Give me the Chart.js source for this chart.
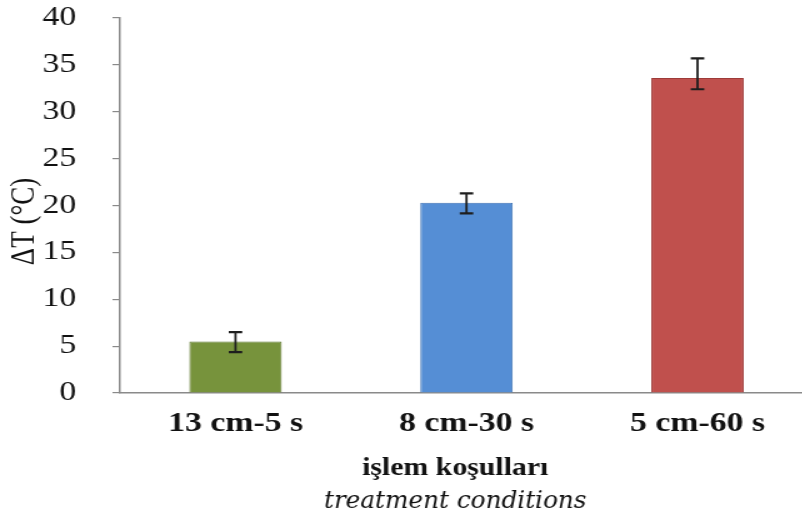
<!DOCTYPE html>
<html>
<head>
<meta charset="utf-8">
<script src="https://cdn.jsdelivr.net/npm/chart.js@4/dist/chart.umd.min.js"></script>
<style>
  html, body { margin: 0; padding: 0; background: #fff; overflow: hidden; }
  #chart { display: block; }
</style>
</head>
<body>
<!-- drawing surface is widened horizontally by CSS (1.25x) -->
<canvas id="chart" width="652" height="521" style="width:815px;height:521px"></canvas>
<script>
// Treatment conditions and measured temperature rise
const categories = ['13 cm-5 s', '8 cm-30 s', '5 cm-60 s'];
const deltaT     = [5.5, 20.3, 33.6];
const errUp      = [1.0, 1.0, 2.1];
const errDown    = [1.15, 1.15, 1.2];
const yMin = 0, yMax = 40, yStep = 5;
const yTitle = 'ΔT (°C)';
const xTitleTr = 'işlem koşulları';
const xTitleEn = 'treatment conditions';

const fills   = ['#77933C', '#558ED5', '#C0504D'];
const borders = ['#5E7730', '#3F72B4', '#9E3B38'];
const axisGrey = '#8a8a8a';
const textCol = '#111';
const serif = '"Liberation Serif", "Times New Roman", serif';

// error whiskers with caps, placed through the y scale
const errorBars = {
  id: 'errorBars',
  afterDatasetsDraw(chart) {
    const ctx = chart.ctx;
    const y = chart.scales.y;
    const meta = chart.getDatasetMeta(0);
    ctx.save();
    ctx.strokeStyle = '#1e1e1e';
    meta.data.forEach((bar, i) => {
      const v = deltaT[i];
      const top = y.getPixelForValue(v + errUp[i]);
      const bot = y.getPixelForValue(v - errDown[i]);
      const cap = 5.4;
      ctx.lineWidth = 1.8;
      ctx.beginPath();
      ctx.moveTo(bar.x, top);
      ctx.lineTo(bar.x, bot);
      ctx.stroke();
      ctx.lineWidth = 2.2;
      ctx.beginPath();
      ctx.moveTo(bar.x - cap, top);
      ctx.lineTo(bar.x + cap, top);
      ctx.moveTo(bar.x - cap, bot);
      ctx.lineTo(bar.x + cap, bot);
      ctx.stroke();
    });
    ctx.restore();
  }
};

// text drawn centred and squeezed to a given width
function fitText(ctx, text, font, cx, cy, width) {
  ctx.font = font;
  const w = ctx.measureText(text).width;
  const sx = Math.min(1, width / w);
  ctx.save();
  ctx.translate(cx, cy);
  ctx.scale(sx, 1);
  ctx.fillText(text, 0, 0);
  ctx.restore();
}

// axis titles: rotated y title, two-line x title (Turkish bold, English italic)
const axisTitles = {
  id: 'axisTitles',
  afterDraw(chart) {
    const ctx = chart.ctx;
    const ca = chart.chartArea;
    const cx = (ca.left + ca.right) / 2 - 9;
    ctx.save();
    ctx.fillStyle = textCol;
    ctx.textAlign = 'center';
    ctx.textBaseline = 'middle';
    fitText(ctx, xTitleTr, 'bold 26px ' + serif, cx, ca.bottom + 75, 149);
    fitText(ctx, xTitleEn, 'italic 24px "DejaVu Serif", serif', cx, ca.bottom + 109, 210);

    ctx.save();
    ctx.translate(20, (ca.top + ca.bottom) / 2 + 16);
    ctx.rotate(-Math.PI / 2);
    ctx.font = '27px ' + serif;
    ctx.fillText(yTitle, 0, 0);
    ctx.restore();
    ctx.restore();
  }
};

new Chart(document.getElementById('chart'), {
  type: 'bar',
  data: {
    labels: categories,
    datasets: [{
      data: deltaT,
      backgroundColor: fills,
      borderColor: borders,
      borderWidth: 1,
      barPercentage: 0.4,
      categoryPercentage: 1.0
    }]
  },
  options: {
    responsive: false,
    animation: false,
    devicePixelRatio: 1,
    layout: { padding: { top: 18, right: 1.6, bottom: 0, left: 0 } },
    plugins: {
      legend: { display: false },
      tooltip: { enabled: false }
    },
    scales: {
      x: {
        grid: { display: false },
        border: { display: true, color: axisGrey, width: 1.5 },
        ticks: {
          color: textCol,
          padding: 7,
          maxRotation: 0,
          font: { family: serif, size: 27, weight: 'bold' }
        },
        afterFit(scale) { scale.height = 128; }
      },
      y: {
        min: yMin,
        max: yMax,
        grid: {
          drawOnChartArea: false,
          color: axisGrey,
          tickLength: 6,
          lineWidth: 1.2
        },
        border: { display: true, color: axisGrey, width: 1.5 },
        ticks: {
          stepSize: yStep,
          color: textCol,
          padding: 29,
          font: { family: serif, size: 27 }
        },
        afterFit(scale) {
          scale.width = 96;
          scale.paddingTop = 12;
          scale.paddingBottom = 12;
        }
      }
    }
  },
  plugins: [errorBars, axisTitles]
});
</script>
</body>
</html>
